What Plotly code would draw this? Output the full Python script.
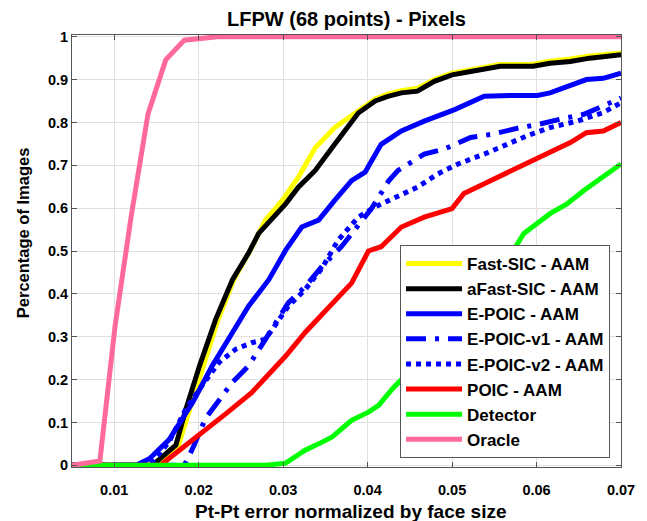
import plotly.graph_objects as go

# ---- data ----
fast_x = [0.005, 0.015, 0.0175, 0.0188, 0.0203, 0.0222, 0.0242, 0.0262, 0.0279, 0.0299, 0.0318, 0.0338, 0.0361, 0.0389, 0.0409, 0.0424, 0.044, 0.0459, 0.0479, 0.05, 0.0522, 0.0557, 0.0596, 0.0616, 0.064, 0.0663, 0.07]
fast_y = [0, 0, 0.04, 0.12, 0.22, 0.335, 0.435, 0.505, 0.572, 0.618, 0.672, 0.741, 0.788, 0.826, 0.855, 0.866, 0.874, 0.88, 0.9, 0.915, 0.923, 0.935, 0.936, 0.943, 0.948, 0.955, 0.962]

afast_x = [0.005, 0.0145, 0.0173, 0.0185, 0.0201, 0.022, 0.024, 0.0259, 0.0271, 0.0303, 0.0318, 0.0338, 0.0361, 0.0381, 0.0389, 0.0409, 0.0424, 0.044, 0.0459, 0.0479, 0.05, 0.0522, 0.0557, 0.0596, 0.0616, 0.064, 0.0663, 0.07]
afast_y = [0, 0, 0.047, 0.132, 0.232, 0.34, 0.433, 0.495, 0.541, 0.61, 0.649, 0.688, 0.749, 0.80, 0.822, 0.85, 0.861, 0.869, 0.873, 0.896, 0.911, 0.919, 0.931, 0.931, 0.938, 0.942, 0.95, 0.958]

epoic_x = [0.005, 0.0126, 0.0142, 0.0165, 0.0193, 0.0216, 0.024, 0.0259, 0.0283, 0.0303, 0.0322, 0.0342, 0.0361, 0.0381, 0.0397, 0.0416, 0.044, 0.0467, 0.0503, 0.0538, 0.0573, 0.0601, 0.0616, 0.0636, 0.0659, 0.0679, 0.07]
epoic_y = [0, 0, 0.016, 0.06, 0.147, 0.232, 0.31, 0.371, 0.433, 0.502, 0.556, 0.572, 0.618, 0.664, 0.684, 0.749, 0.78, 0.803, 0.83, 0.861, 0.863, 0.863, 0.869, 0.884, 0.9, 0.903, 0.915]

v1_x = [0.005, 0.0183, 0.0193, 0.0208, 0.024, 0.0259, 0.0279, 0.0306, 0.0326, 0.0346, 0.0369, 0.0389, 0.0405, 0.0425, 0.0436, 0.0467, 0.0491, 0.0522, 0.0546, 0.0581, 0.0601, 0.0636, 0.0656, 0.07]
v1_y = [0, 0, 0.04, 0.109, 0.194, 0.232, 0.294, 0.379, 0.417, 0.464, 0.51, 0.56, 0.60, 0.664, 0.688, 0.726, 0.738, 0.765, 0.772, 0.788, 0.795, 0.811, 0.819, 0.857]

v2_x = [0.005, 0.0142, 0.0165, 0.0185, 0.0204, 0.0224, 0.0244, 0.0263, 0.0279, 0.0306, 0.0326, 0.0346, 0.0365, 0.0389, 0.0409, 0.0433, 0.0459, 0.0483, 0.0507, 0.0538, 0.0565, 0.0589, 0.0616, 0.0648, 0.0679, 0.07]
v2_y = [0, 0, 0.055, 0.132, 0.186, 0.24, 0.271, 0.286, 0.294, 0.371, 0.41, 0.46, 0.525, 0.579, 0.603, 0.626, 0.649, 0.68, 0.703, 0.726, 0.749, 0.769, 0.788, 0.803, 0.823, 0.846]

poic_x = [0.005, 0.0155, 0.0161, 0.0201, 0.0232, 0.0263, 0.0279, 0.0303, 0.0326, 0.035, 0.0381, 0.0401, 0.0416, 0.044, 0.0467, 0.05, 0.0514, 0.0538, 0.0573, 0.0601, 0.0616, 0.064, 0.0659, 0.0679, 0.07]
poic_y = [0, 0, 0.01, 0.07, 0.12, 0.17, 0.205, 0.255, 0.31, 0.36, 0.425, 0.50, 0.51, 0.556, 0.579, 0.599, 0.634, 0.657, 0.691, 0.718, 0.73, 0.753, 0.776, 0.78, 0.80]

det_x = [0.005, 0.0279, 0.0303, 0.0326, 0.0342, 0.0358, 0.0381, 0.0401, 0.0413, 0.043, 0.045, 0.047, 0.049, 0.051, 0.053, 0.055, 0.0573, 0.0585, 0.0616, 0.0636, 0.0656, 0.07]
det_y = [0, 0, 0.005, 0.035, 0.05, 0.066, 0.105, 0.124, 0.14, 0.18, 0.22, 0.26, 0.30, 0.34, 0.38, 0.43, 0.502, 0.541, 0.587, 0.61, 0.641, 0.703]

oracle_x = [0.005, 0.0083, 0.0101, 0.0114, 0.012, 0.014, 0.0161, 0.0183, 0.0222, 0.07]
oracle_y = [0, 0.01, 0.325, 0.50, 0.58, 0.82, 0.946, 0.992, 1.0, 1.0]

x_ticks = [0.01, 0.02, 0.03, 0.04, 0.05, 0.06, 0.07]
x_tick_labels = ["0.01", "0.02", "0.03", "0.04", "0.05", "0.06", "0.07"]
y_ticks = [0, 0.1, 0.2, 0.3, 0.4, 0.5, 0.6, 0.7, 0.8, 0.9, 1]
y_tick_labels = ["0", "0.1", "0.2", "0.3", "0.4", "0.5", "0.6", "0.7", "0.8", "0.9", "1"]

series = [
    ("Fast-SIC - AAM", fast_x, fast_y, "#FFFF00", "solid"),
    ("aFast-SIC - AAM", afast_x, afast_y, "#000000", "solid"),
    ("E-POIC - AAM", epoic_x, epoic_y, "#0000FF", "solid"),
    ("E-POIC-v1 - AAM", v1_x, v1_y, "#0000FF", "20px,9px,4px,9px"),
    ("E-POIC-v2 - AAM", v2_x, v2_y, "#0000FF", "5px,5px"),
    ("POIC - AAM", poic_x, poic_y, "#FF0000", "solid"),
    ("Detector", det_x, det_y, "#00FF00", "solid"),
    ("Oracle", oracle_x, oracle_y, "#FF6A9A", "solid"),
]

FONT = "Liberation Sans, Arial, sans-serif"
W, H = 647, 521
L, R, T, B = 72, 24, 35, 54
PW, PH = W - L - R, H - T - B

fig = go.Figure()
for name, xs, ys, col, dash in series:
    fig.add_trace(go.Scatter(
        x=xs, y=ys, mode="lines", name=name,
        line=dict(color=col, width=5, dash=dash),
    ))

fig.update_layout(
    width=W, height=H,
    margin=dict(l=L, r=R, t=T, b=B),
    paper_bgcolor="white", plot_bgcolor="white",
    font=dict(family=FONT, size=14, color="black", weight="bold"),
    title=dict(text="LFPW (68 points) - Pixels", x=0.5, xref="paper",
               xanchor="center", y=1 - 19 / H, yanchor="middle",
               font=dict(family=FONT, size=20, color="black", weight="bold")),
    showlegend=True,
    legend=dict(
        x=(612 - L) / PW, xanchor="right", y=(467 - 458) / PH, yanchor="bottom",
        bgcolor="white", bordercolor="#555555", borderwidth=1,
        font=dict(family=FONT, size=17, color="black", weight="bold"),
        itemwidth=56,
        entrywidth=178,
    ),
    xaxis=dict(
        range=[0.005, 0.07], tickvals=x_ticks, ticktext=x_tick_labels,
        showgrid=True, gridcolor="#e0e0e0", gridwidth=1,
        showline=True, linecolor="#555555", linewidth=1, mirror="ticks",
        ticks="inside", ticklen=5, tickcolor="#555555",
        zeroline=False, ticklabelstandoff=10,
        tickfont=dict(family=FONT, size=14.5, color="black", weight="bold"),
    ),
    yaxis=dict(
        range=[-0.004, 1.004], tickvals=y_ticks, ticktext=y_tick_labels,
        showgrid=True, gridcolor="#e0e0e0", gridwidth=1,
        showline=True, linecolor="#555555", linewidth=1, mirror="ticks",
        ticks="inside", ticklen=5, tickcolor="#555555",
        zeroline=False,
        tickfont=dict(family=FONT, size=14.5, color="black", weight="bold"),
    ),
    annotations=[
        dict(text="Pt-Pt error normalized by face size", xref="paper", yref="paper",
             x=(352 - L) / PW, y=(467 - 511) / PH, xanchor="center", yanchor="middle",
             showarrow=False,
             font=dict(family=FONT, size=19, color="black", weight="bold")),
        dict(text="Percentage of Images", xref="paper", yref="paper",
             x=(23 - L) / PW, y=(467 - 233) / PH, xanchor="center", yanchor="middle",
             textangle=-90, showarrow=False,
             font=dict(family=FONT, size=16.5, color="black", weight="bold")),
    ],
)

fig.write_html("out.html", config={"displayModeBar": False},
               post_script="document.body.style.margin='0px';")
